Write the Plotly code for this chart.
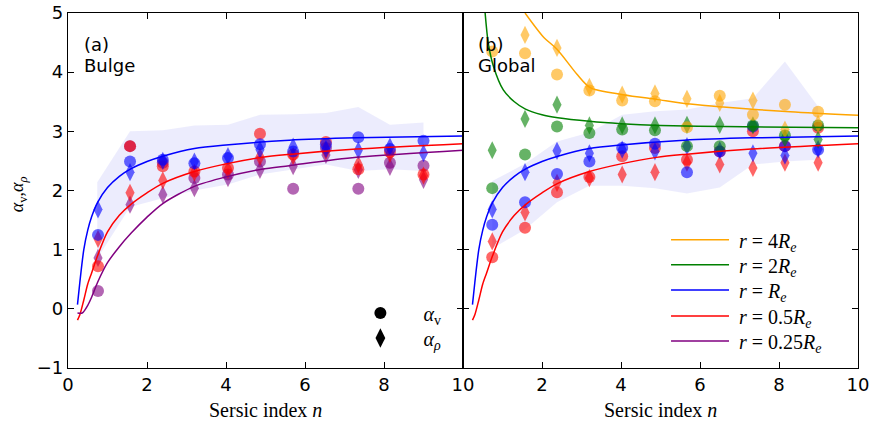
import plotly.graph_objects as go

# ---------------- data ----------------
# Panel (a) Bulge
n_a = [0.76, 1.57, 2.4, 3.2, 4.05, 4.86, 5.7, 6.53, 7.35, 8.15, 9.0]
a_blue_v = [1.25, 2.49, 2.52, 2.46, 2.55, 2.78, 2.66, 2.78, 2.90, 2.70, 2.84]
a_blue_rho = [1.68, 2.31, 2.50, 2.49, 2.58, 2.69, 2.74, 2.70, 2.68, 2.74, 2.63]
a_red_v = [0.72, 2.75, 2.41, 2.32, 2.38, 2.96, 2.61, 2.82, 2.36, 2.65, 2.27]
a_red_rho = [1.18, 1.96, 2.17, 2.30, 2.35, 2.57, 2.58, 2.67, 2.44, 2.62, 2.25]
a_purple_v = [0.30, 2.75, 2.47, 2.21, 2.27, 2.49, 2.03, 2.72, 2.03, 2.47, 2.42]
a_purple_rho = [0.86, 1.76, 1.93, 2.04, 2.21, 2.35, 2.41, 2.60, 2.35, 2.40, 2.18]
a_band_n = [0.74, 1.57, 2.4, 3.2, 4.05, 4.86, 5.7, 6.53, 7.35, 8.15, 9.0]
a_band_up = [2.14, 3.00, 3.02, 3.10, 3.11, 3.28, 3.29, 3.31, 3.41, 3.11, 3.15]
a_band_lo = [0.85, 1.72, 1.87, 2.00, 2.10, 2.27, 2.35, 2.44, 2.33, 2.36, 2.33]

# Panel (b) Global
n_b = [0.74, 1.57, 2.38, 3.2, 4.03, 4.86, 5.67, 6.5, 7.34, 8.15, 8.99]
b_orange_v = [4.35, 4.32, 3.96, 3.69, 3.52, 3.51, 3.07, 3.60, 3.28, 3.45, 3.33]
b_orange_rho = [None, 4.63, 4.41, 3.75, 3.62, 3.64, 3.55, 3.48, 3.52, 3.03, 3.13]
b_green_v = [2.04, 2.61, 3.08, 2.97, 3.03, 3.02, 2.75, 2.75, 3.10, 2.93, 3.10]
b_green_rho = [2.68, 3.21, 3.45, 3.10, 3.10, 3.10, 3.11, 3.11, 3.10, 2.88, 2.86]
b_blue_v = [1.42, 1.80, 2.28, 2.49, 2.72, 2.79, 2.31, 2.66, 3.08, 2.75, 2.69]
b_blue_rho = [1.68, 2.31, 2.67, 2.63, 2.69, 2.66, 2.75, 2.68, 2.63, 2.59, 2.70]
b_red_v = [0.87, 1.37, 1.97, 2.23, 2.58, 2.72, 2.52, 2.66, 3.00, 2.75, 3.06]
b_red_rho = [1.14, 1.63, 2.13, 2.21, 2.27, 2.31, 2.47, 2.44, 2.38, 2.47, 2.47]
b_band_n = [0.74, 1.57, 2.38, 3.2, 4.03, 4.86, 5.67, 6.5, 7.34, 8.15, 8.99]
b_band_up = [2.16, 2.45, 2.83, 2.98, 3.28, 3.34, 3.37, 3.48, 3.56, 4.18, 3.42]
b_band_lo = [1.02, 1.34, 1.80, 2.08, 2.08, 2.04, 1.95, 2.05, 2.44, 2.49, 2.52]

# Model curves
c_blue_n = [0.24, 0.3, 0.4, 0.5, 0.6, 0.75, 1.0, 1.3, 1.6, 2.0, 2.4, 3.2, 4.0, 5.6, 7.3, 10]
c_blue = [0.07, 0.45, 1.0, 1.33, 1.56, 1.80, 2.05, 2.24, 2.37, 2.49, 2.58, 2.71, 2.77, 2.85, 2.89, 2.92]
c_red_n = [0.24, 0.3, 0.4, 0.5, 0.6, 0.75, 1.0, 1.3, 1.6, 2.0, 2.4, 3.2, 4.0, 4.9, 5.6, 7.3, 10]
c_red = [-0.19, -0.10, 0.15, 0.42, 0.61, 0.90, 1.30, 1.58, 1.77, 1.96, 2.12, 2.32, 2.45, 2.56, 2.61, 2.70, 2.79]
c_purple_n = [0.24, 0.36, 0.5, 0.6, 0.75, 1.0, 1.3, 1.6, 2.0, 2.4, 3.2, 4.0, 4.9, 5.6, 7.3, 10]
c_purple = [-0.07, -0.07, 0.06, 0.20, 0.45, 0.78, 1.05, 1.28, 1.55, 1.78, 2.07, 2.23, 2.36, 2.42, 2.56, 2.68]
c_green_n = [0.56, 0.64, 0.77, 1.02, 1.3, 1.57, 2.0, 2.4, 3.2, 4.0, 5.0, 6.6, 10]
c_green = [5.0, 4.49, 4.10, 3.70, 3.50, 3.38, 3.28, 3.23, 3.17, 3.13, 3.10, 3.08, 3.06]
c_orange_n = [1.57, 2.03, 2.39, 2.88, 3.22, 4.06, 4.9, 5.75, 6.59, 8.28, 10]
c_orange = [5.0, 4.60, 4.38, 3.97, 3.74, 3.62, 3.54, 3.46, 3.41, 3.33, 3.27]

x_ticks_a = [0, 2, 4, 6, 8, 10]
x_ticks_b = [2, 4, 6, 8, 10]
y_ticks = [-1, 0, 1, 2, 3, 4, 5]

line_labels = ["<i>r</i> = 4<i>R</i><sub><i>e</i></sub>", "<i>r</i> = 2<i>R</i><sub><i>e</i></sub>",
               "<i>r</i> = <i>R</i><sub><i>e</i></sub>", "<i>r</i> = 0.5<i>R</i><sub><i>e</i></sub>",
               "<i>r</i> = 0.25<i>R</i><sub><i>e</i></sub>"]
marker_labels = ["<i>α</i><sub>v</sub>", "<i>α</i><sub><i>ρ</i></sub>"]

# ---------------- styles ----------------
BLUE, RED, PURPLE, GREEN, ORANGE = "#0000ff", "#ff0000", "#800080", "#008000", "#ffa500"
BAND = "rgba(0,0,230,0.075)"
SERIF = "Liberation Serif"
SANS = "DejaVu Sans"
ALPHA = 0.6
NB = "\u00a0"

fig = go.Figure()


def band(n, up, lo, xa, ya):
    fig.add_trace(go.Scatter(x=n + n[::-1], y=up + lo[::-1], fill="toself", fillcolor=BAND,
                             mode="lines", line=dict(width=0), showlegend=False,
                             hoverinfo="skip", xaxis=xa, yaxis=ya))


def pts(n, y, color, symbol, xa, ya):
    fig.add_trace(go.Scatter(x=n, y=y, mode="markers", showlegend=False, xaxis=xa, yaxis=ya,
                             marker=dict(color=color, symbol=symbol, opacity=ALPHA,
                                         size=12 if symbol == "circle" else 13,
                                         line=dict(width=0))))


def curve(n, y, color, xa, ya, name=None, legend=None):
    fig.add_trace(go.Scatter(x=n, y=y, mode="lines",
                             line=dict(color=color, width=1.5, shape="spline", smoothing=0.8),
                             xaxis=xa, yaxis=ya, name=name, showlegend=name is not None,
                             legend=legend or "legend"))


band(a_band_n, a_band_up, a_band_lo, "x", "y")
band(b_band_n, b_band_up, b_band_lo, "x2", "y2")

for yv, yr, c in [(a_purple_v, a_purple_rho, PURPLE), (a_red_v, a_red_rho, RED), (a_blue_v, a_blue_rho, BLUE)]:
    pts(n_a, yv, c, "circle", "x", "y")
    pts(n_a, yr, c, "diamond-tall", "x", "y")

for yv, yr, c in [(b_red_v, b_red_rho, RED), (b_blue_v, b_blue_rho, BLUE),
                  (b_green_v, b_green_rho, GREEN), (b_orange_v, b_orange_rho, ORANGE)]:
    pts(n_b, yv, c, "circle", "x2", "y2")
    pts(n_b, yr, c, "diamond-tall", "x2", "y2")

curve(c_blue_n, c_blue, BLUE, "x", "y")
curve(c_red_n, c_red, RED, "x", "y")
curve(c_purple_n, c_purple, PURPLE, "x", "y", NB + line_labels[4], "legend5")
curve(c_orange_n, c_orange, ORANGE, "x2", "y2", NB + line_labels[0], "legend")
curve(c_green_n, c_green, GREEN, "x2", "y2", NB + line_labels[1], "legend2")
curve(c_blue_n, c_blue, BLUE, "x2", "y2", NB + line_labels[2], "legend3")
curve(c_red_n, c_red, RED, "x2", "y2", NB + line_labels[3], "legend4")

# marker legend for panel (a)
for sym, lab, lg in [("circle", marker_labels[0], "legend6"), ("diamond-tall", marker_labels[1], "legend7")]:
    fig.add_trace(go.Scatter(x=[None], y=[None], mode="markers", name=lab, legend=lg,
                             marker=dict(color="black", symbol=sym, size=12 if sym == "circle" else 14),
                             xaxis="x", yaxis="y"))

axis_common = dict(range=[0, 10], showline=True, linecolor="black", linewidth=1.3, mirror="ticks",
                   ticks="inside", ticklen=6, tickcolor="black", showgrid=False, zeroline=False,
                   automargin=False, tickfont=dict(family=SANS, size=18, color="black"))
yaxis_common = dict(range=[-1, 5], showline=True, linecolor="black", linewidth=1.3, mirror="ticks",
                    ticks="inside", ticklen=6, tickcolor="black", showgrid=False, zeroline=False,
                    automargin=False, tickvals=y_ticks, tickfont=dict(family=SANS, size=18, color="black"))


def lg(x, y, w, size):
    return dict(x=x, y=y, xanchor="left", yanchor="middle", bgcolor="rgba(0,0,0,0)",
                font=dict(family=SERIF, size=size, color="black"), itemwidth=w, tracegroupgap=0)


line_leg_y = [0.361, 0.291, 0.220, 0.1465, 0.076]
mark_leg_y = [0.155, 0.0845]

fig.update_layout(
    width=873, height=422,
    margin=dict(l=68, r=15, t=13, b=54, autoexpand=False),
    paper_bgcolor="white", plot_bgcolor="white",
    xaxis=dict(axis_common, domain=[0, 0.5], tickvals=x_ticks_a),
    xaxis2=dict(axis_common, domain=[0.5, 1], tickvals=x_ticks_b, anchor="y2"),
    yaxis=dict(yaxis_common, domain=[0, 1], anchor="x"),
    yaxis2=dict(yaxis_common, domain=[0, 1], anchor="x2", showticklabels=False),
    legend=lg(0.757, line_leg_y[0], 58, 20),
    legend2=lg(0.757, line_leg_y[1], 58, 20),
    legend3=lg(0.757, line_leg_y[2], 58, 20),
    legend4=lg(0.757, line_leg_y[3], 58, 20),
    legend5=lg(0.757, line_leg_y[4], 58, 20),
    legend6=lg(0.341, mark_leg_y[0], 76, 20),
    legend7=lg(0.341, mark_leg_y[1], 76, 20),
    showlegend=True,
    annotations=[
        dict(text="(a)", xref="x domain", yref="y domain", x=0.036, y=0.91,
             xanchor="left", yanchor="middle", showarrow=False,
             font=dict(family=SANS, size=18, color="black")),
        dict(text="Bulge", xref="x domain", yref="y domain", x=0.036, y=0.853,
             xanchor="left", yanchor="middle", showarrow=False,
             font=dict(family=SANS, size=18, color="black")),
        dict(text="(b)", xref="x2 domain", yref="y2 domain", x=0.033, y=0.91,
             xanchor="left", yanchor="middle", showarrow=False,
             font=dict(family=SANS, size=18, color="black")),
        dict(text="Global", xref="x2 domain", yref="y2 domain", x=0.033, y=0.853,
             xanchor="left", yanchor="middle", showarrow=False,
             font=dict(family=SANS, size=18, color="black")),
        dict(text="Sersic index <i>n</i>", xref="x domain", yref="paper", x=0.5, y=-0.118,
             xanchor="center", yanchor="middle", showarrow=False,
             font=dict(family=SERIF, size=20, color="black")),
        dict(text="Sersic index <i>n</i>", xref="x2 domain", yref="paper", x=0.5, y=-0.118,
             xanchor="center", yanchor="middle", showarrow=False,
             font=dict(family=SERIF, size=20, color="black")),
        dict(text="<i>α</i><sub>v</sub>,<i>α</i><sub><i>ρ</i></sub>", xref="paper", yref="paper",
             x=-0.063, y=0.49, xanchor="center", yanchor="middle", textangle=-90, showarrow=False,
             font=dict(family=SERIF, size=18, color="black")),
    ],
)

fig.write_html("out.html")
